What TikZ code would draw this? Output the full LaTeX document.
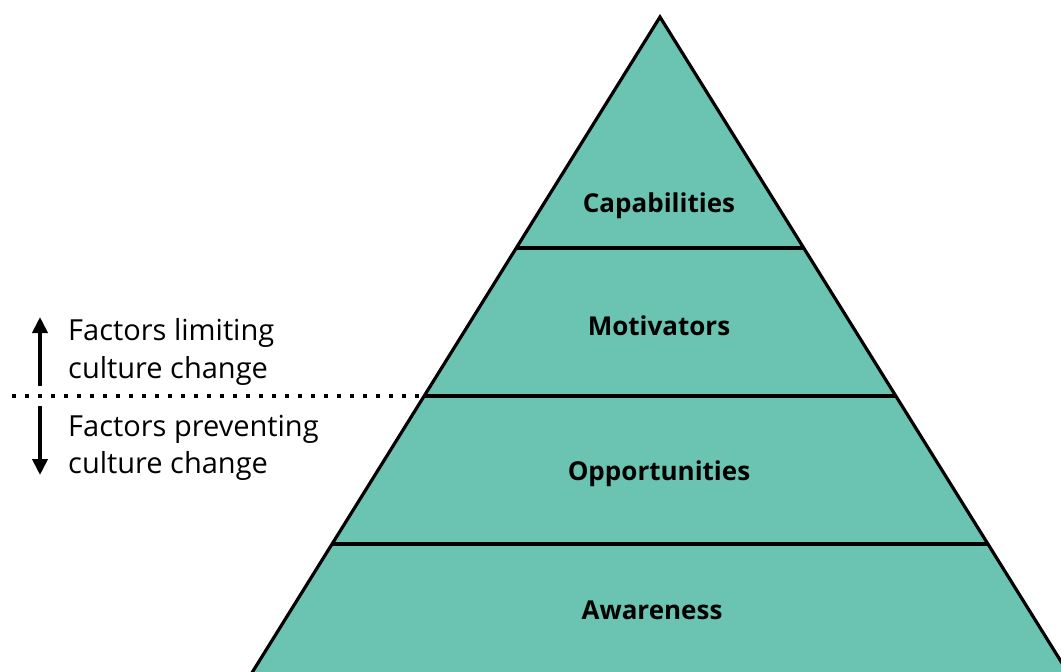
\documentclass[tikz,border=0pt]{standalone}
\usepackage{fontspec}
\setmainfont{Open Sans}
\usetikzlibrary{arrows.meta}
\definecolor{teal}{HTML}{6BC4B2}
\tikzset{
  layerlabel/.style={font=\fontsize{26}{30}\selectfont\bfseries, inner sep=0pt},
  sidetext/.style={font=\fontsize{29}{34}\selectfont, anchor=base west, inner sep=0pt},
  edge/.style={line width=3.2pt, line join=miter},
  divider/.style={line width=3.6pt},
  sidearrow/.style={line width=3.8pt, -{Triangle[length=16pt,width=15pt]}},
}
\begin{document}
\begin{tikzpicture}[x=1pt,y=-1pt]
\useasboundingbox (0,0) rectangle (1061,672);
\clip (0,0) rectangle (1061,672);
% pyramid
\coordinate (apex) at (660,17);
\coordinate (bl) at (235,700);
\coordinate (br) at (1085,700);
\fill[teal] (apex) -- (bl) -- (br) -- cycle;
\draw[edge] (bl) -- (apex) -- (br);
\coordinate (l1) at (516,248); \coordinate (r1) at (804,248);
\coordinate (l2) at (424,396); \coordinate (r2) at (896,396);
\coordinate (l3) at (332,544); \coordinate (r3) at (988,544);
\draw[divider] (l1) -- (r1);
\draw[divider] (l2) -- (r2);
\draw[divider] (l3) -- (r3);
% labels
\node[layerlabel] (cap) at (659,206) {Capabilities};
\node[layerlabel] (mot) at (659,326) {Motivators};
\node[layerlabel] (opp) at (659,474) {Opportunities};
\node[layerlabel] (awa) at (652,610) {Awareness};
% dotted separator
\coordinate (dotstart) at (12,396);
\draw[line width=4pt, dash pattern=on 4pt off 9pt] (dotstart) -- (l2);
% side texts
\node[sidetext] (lim1) at (68,340) {Factors limiting};
\node[sidetext] (lim2) at (68,378) {culture change};
\node[sidetext] (prev1) at (68,436) {Factors preventing};
\node[sidetext] (prev2) at (68,473) {culture change};
% arrows
\coordinate (ua0) at (40,386); \coordinate (ua1) at (40,317);
\coordinate (da0) at (40,406); \coordinate (da1) at (40,475);
\draw[sidearrow] (ua0) -- (ua1);
\draw[sidearrow] (da0) -- (da1);
\end{tikzpicture}
\end{document}
